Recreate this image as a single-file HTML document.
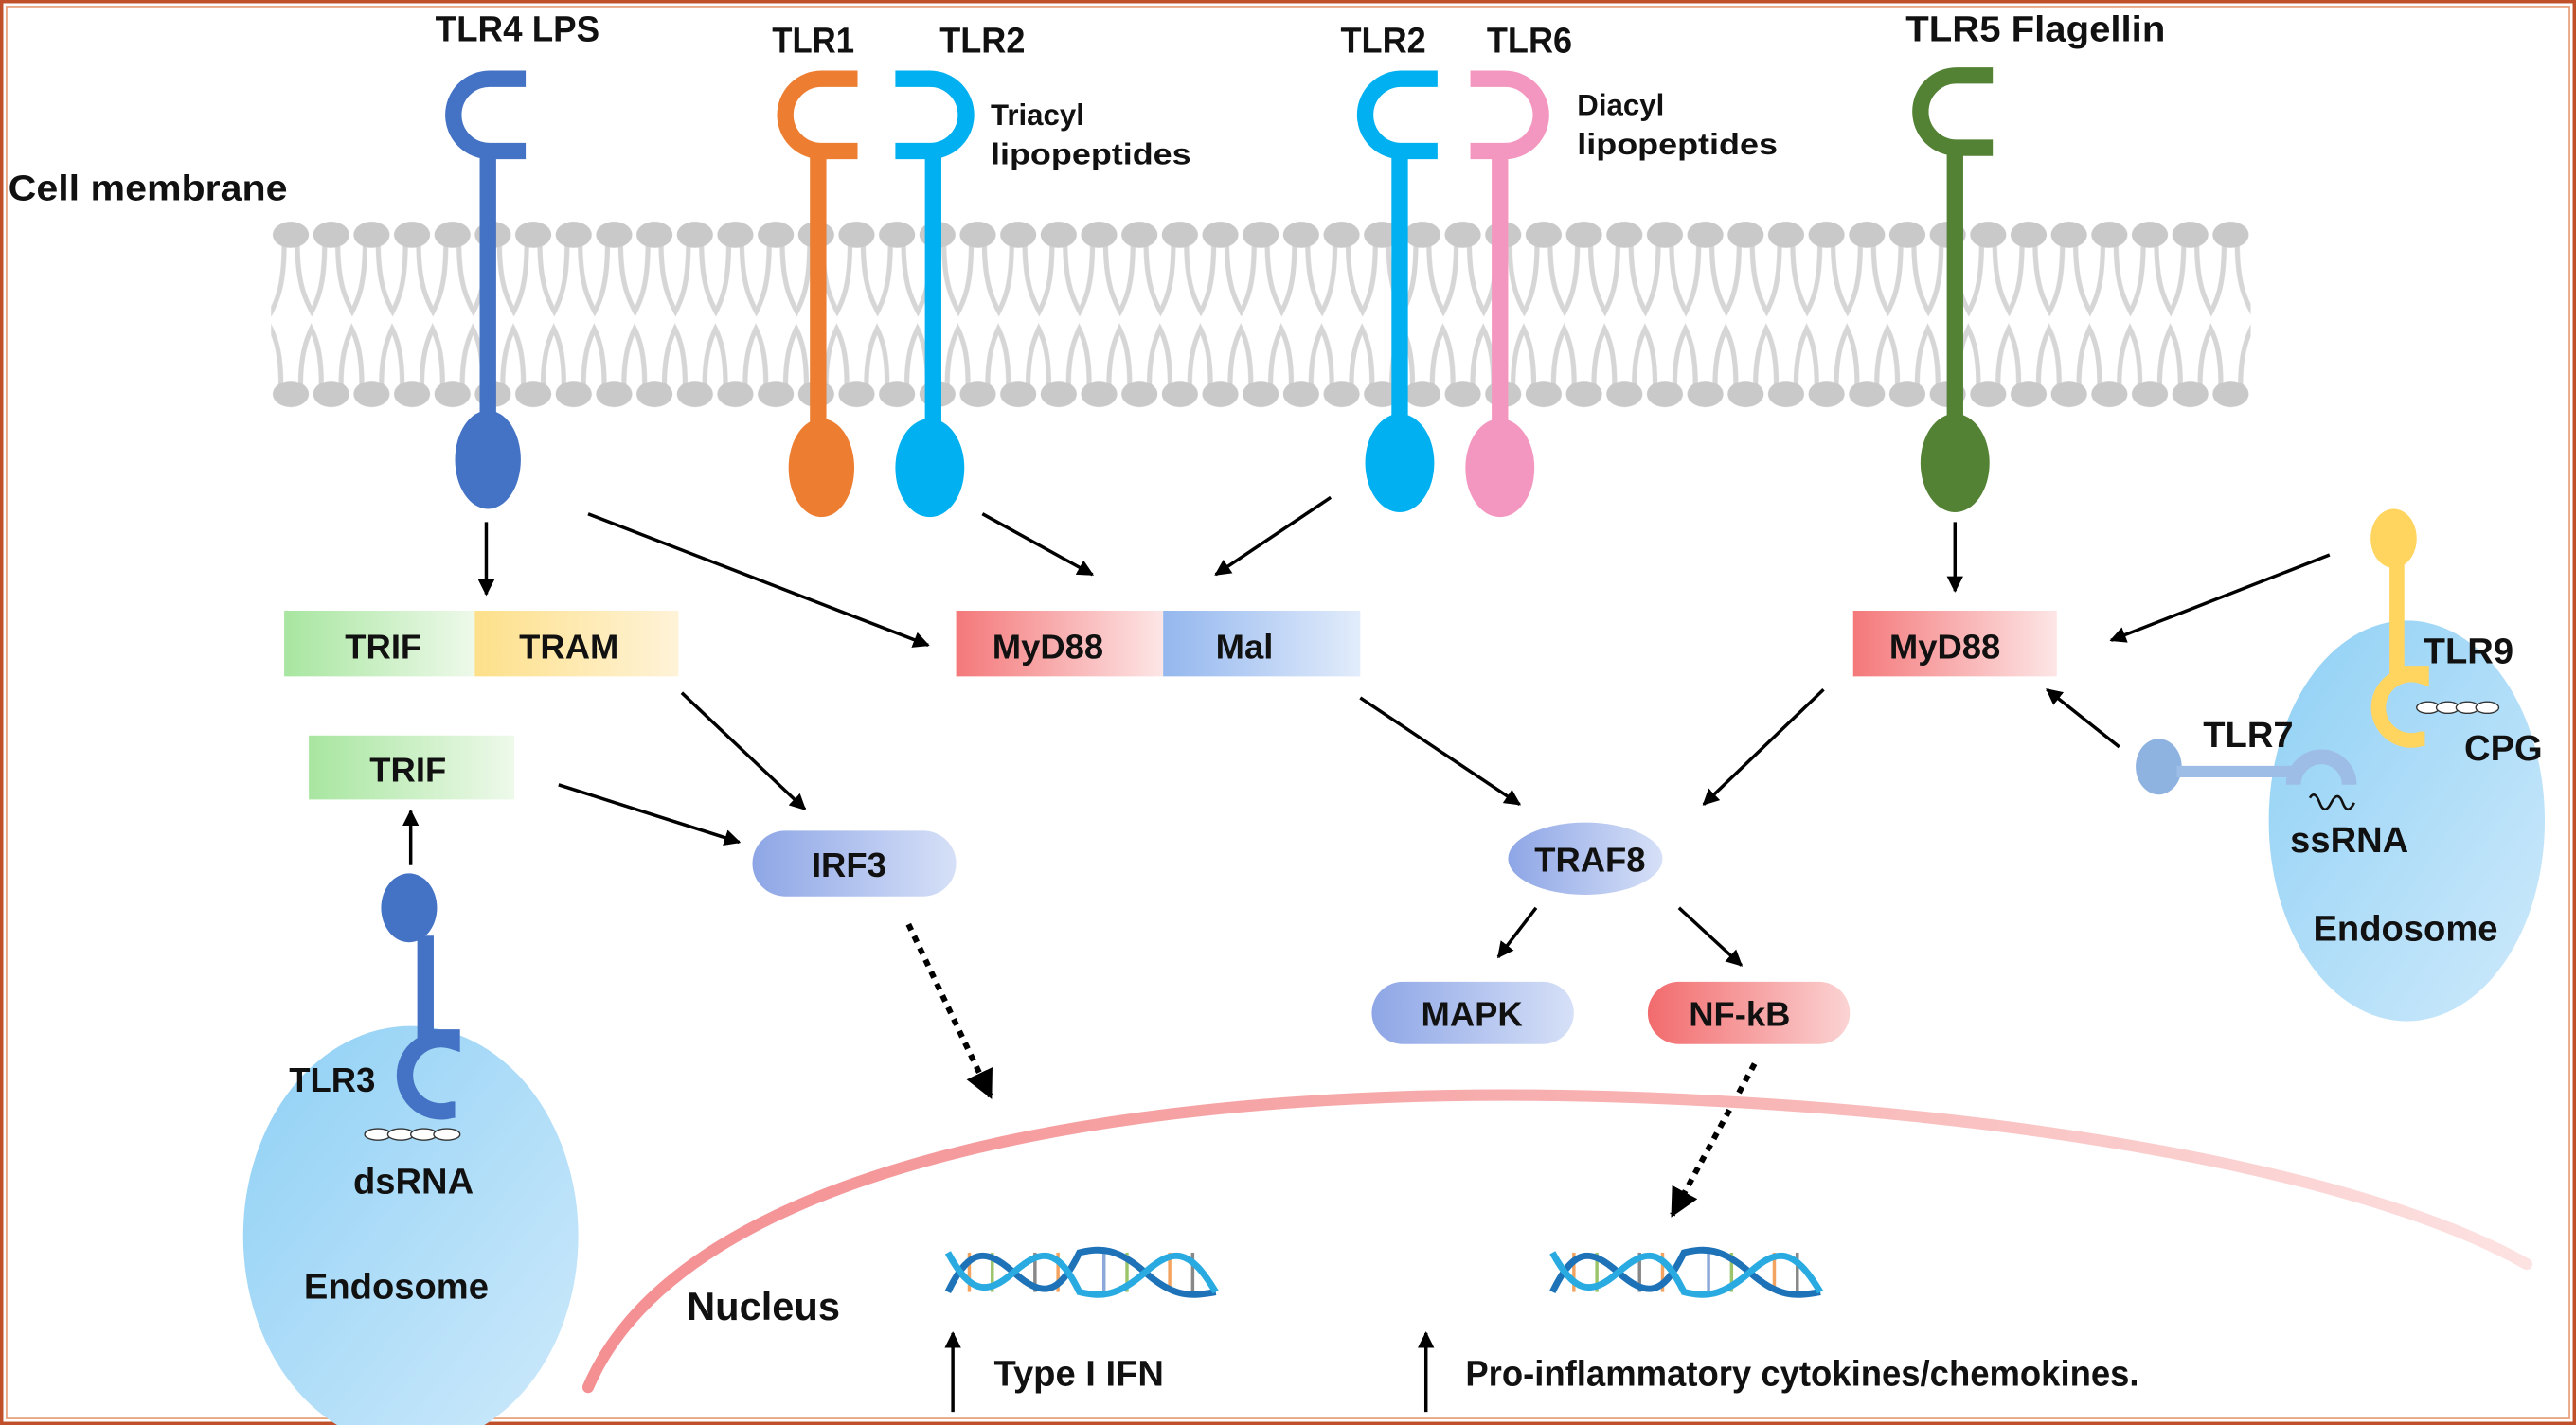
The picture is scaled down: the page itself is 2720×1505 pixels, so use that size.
<!DOCTYPE html>
<html><head><meta charset="utf-8"><style>
html,body{margin:0;padding:0;background:#fff;}
svg{display:block;}
text{font-family:"Liberation Sans",sans-serif;font-weight:bold;fill:#111;}
</style></head><body>
<svg width="2720" height="1505" viewBox="0 0 1568 868" preserveAspectRatio="none" xmlns="http://www.w3.org/2000/svg">
<defs>
<pattern id="lip" x="165" y="128" width="24.6" height="125" patternUnits="userSpaceOnUse">
 <g fill="none" stroke="#d6d6d6" stroke-width="3">
  <path d="M8 20 C8 45 4 55 -1 64"/><path d="M16 20 C16 45 21 55 26 64"/>
  <path d="M6 106 C6 85 2 75 -3 67"/><path d="M18 106 C18 85 23 75 27 67"/>
 </g>
 <ellipse cx="12" cy="15" rx="11" ry="8" fill="#c9c9c9"/>
 <ellipse cx="12" cy="112" rx="11" ry="8" fill="#c9c9c9"/>
</pattern>
<linearGradient id="gGreen" x1="0" x2="1"><stop offset="0" stop-color="#a8e6a0"/><stop offset="1" stop-color="#eef9ea"/></linearGradient>
<linearGradient id="gYel" x1="0" x2="1"><stop offset="0" stop-color="#fde08a"/><stop offset="1" stop-color="#fff3d8"/></linearGradient>
<linearGradient id="gRed" x1="0" x2="1"><stop offset="0" stop-color="#f4787a"/><stop offset="1" stop-color="#fde6e6"/></linearGradient>
<linearGradient id="gBlue" x1="0" x2="1"><stop offset="0" stop-color="#94b7ee"/><stop offset="1" stop-color="#e2ecfb"/></linearGradient>
<linearGradient id="gPur" x1="0" x2="1"><stop offset="0" stop-color="#8ea6e6"/><stop offset="1" stop-color="#d6e0f7"/></linearGradient>
<linearGradient id="gPill" x1="0" x2="1"><stop offset="0" stop-color="#f26b6d"/><stop offset="1" stop-color="#fbd3d3"/></linearGradient>
<linearGradient id="gEndo" x1="0" y1="0" x2="1" y2="1"><stop offset="0" stop-color="#8fd0f5"/><stop offset="1" stop-color="#cfeafb"/></linearGradient>
<linearGradient id="gNuc" x1="0" x2="1"><stop offset="0" stop-color="#f48f92"/><stop offset="0.6" stop-color="#f8b5b5"/><stop offset="1" stop-color="#fde2e2"/></linearGradient>
<marker id="ah" viewBox="0 0 10 10" refX="9" refY="5" markerWidth="5" markerHeight="5" orient="auto"><path d="M0 0 L10 5 L0 10 z" fill="#000"/></marker>
</defs>
<rect x="1" y="1" width="1566" height="866" fill="#fff" stroke="#c0502a" stroke-width="2"/>
<rect x="4" y="4" width="1560" height="860" fill="none" stroke="#e8a07a" stroke-width="1"/>

<rect x="165" y="128" width="1205" height="125" fill="url(#lip)"/>
<text x="5" y="122" font-size="22" textLength="170" lengthAdjust="spacingAndGlyphs">Cell membrane</text>

<g fill="none" stroke-width="10">
 <path d="M320 48 L298 48 A22 22 0 1 0 298 92 L320 92 M297 92 L297 270" stroke="#4472c4"/>
 <path d="M522 48 L500 48 A22 22 0 1 0 500 92 L522 92 M498 92 L498 270" stroke="#ed7d31"/>
 <path d="M545 48 L566 48 A22 22 0 1 1 566 92 L545 92 M568 92 L568 270" stroke="#00b0f0"/>
 <path d="M875 48 L853 48 A22 22 0 1 0 853 92 L875 92 M852 92 L852 270" stroke="#00b0f0"/>
 <path d="M895 48 L916 48 A22 22 0 1 1 916 92 L895 92 M913 92 L913 270" stroke="#f497c0"/>
 <path d="M1213 46 L1191 46 A22 22 0 1 0 1191 90 L1213 90 M1190 90 L1190 270" stroke="#548235"/>
</g>
<ellipse cx="297" cy="280" rx="20" ry="30" fill="#4472c4"/>
<ellipse cx="500" cy="285" rx="20" ry="30" fill="#ed7d31"/>
<ellipse cx="566" cy="285" rx="21" ry="30" fill="#00b0f0"/>
<ellipse cx="852" cy="282" rx="21" ry="30" fill="#00b0f0"/>
<ellipse cx="913" cy="285" rx="21" ry="30" fill="#f497c0"/>
<ellipse cx="1190" cy="282" rx="21" ry="30" fill="#548235"/>

<text x="265" y="25" font-size="22" textLength="100" lengthAdjust="spacingAndGlyphs">TLR4  LPS</text>
<text x="470" y="32" font-size="22" textLength="50" lengthAdjust="spacingAndGlyphs">TLR1</text>
<text x="572" y="32" font-size="22" textLength="52" lengthAdjust="spacingAndGlyphs">TLR2</text>
<text x="816" y="32" font-size="22" textLength="52" lengthAdjust="spacingAndGlyphs">TLR2</text>
<text x="905" y="32" font-size="22" textLength="52" lengthAdjust="spacingAndGlyphs">TLR6</text>
<text x="603" y="76" font-size="18">Triacyl</text>
<text x="603" y="100" font-size="18" textLength="122" lengthAdjust="spacingAndGlyphs">lipopeptides</text>
<text x="960" y="70" font-size="18">Diacyl</text>
<text x="960" y="94" font-size="18" textLength="122" lengthAdjust="spacingAndGlyphs">lipopeptides</text>
<text x="1160" y="25" font-size="22" textLength="158" lengthAdjust="spacingAndGlyphs">TLR5  Flagellin</text>

<rect x="173" y="372" width="116" height="40" fill="url(#gGreen)"/>
<rect x="289" y="372" width="124" height="40" fill="url(#gYel)"/>
<rect x="582" y="372" width="126" height="40" fill="url(#gRed)"/>
<rect x="708" y="372" width="120" height="40" fill="url(#gBlue)"/>
<rect x="1128" y="372" width="124" height="40" fill="url(#gRed)"/>
<rect x="188" y="448" width="125" height="39" fill="url(#gGreen)"/>
<text x="210" y="401" font-size="21">TRIF</text>
<text x="316" y="401" font-size="21">TRAM</text>
<text x="604" y="401" font-size="21">MyD88</text>
<text x="740" y="401" font-size="21">Mal</text>
<text x="1150" y="401" font-size="21">MyD88</text>
<text x="225" y="476" font-size="21">TRIF</text>

<rect x="458" y="506" width="124" height="40" rx="20" fill="url(#gPur)"/>
<text x="494" y="534" font-size="21">IRF3</text>
<ellipse cx="965" cy="523" rx="47" ry="22" fill="url(#gPur)"/>
<text x="934" y="531" font-size="21">TRAF8</text>
<rect x="835" y="598" width="123" height="38" rx="19" fill="url(#gPur)"/>
<text x="865" y="625" font-size="21">MAPK</text>
<rect x="1003" y="598" width="123" height="38" rx="19" fill="url(#gPill)"/>
<text x="1028" y="625" font-size="21">NF-kB</text>

<g stroke="#000" stroke-width="2" marker-end="url(#ah)">
 <line x1="296" y1="318" x2="296" y2="362"/>
 <line x1="358" y1="313" x2="565" y2="393"/>
 <line x1="598" y1="313" x2="665" y2="350"/>
 <line x1="810" y1="303" x2="740" y2="350"/>
 <line x1="1190" y1="318" x2="1190" y2="360"/>
 <line x1="1418" y1="338" x2="1285" y2="390"/>
 <line x1="1290" y1="455" x2="1246" y2="420"/>
 <line x1="415" y1="422" x2="490" y2="493"/>
 <line x1="340" y1="478" x2="450" y2="513"/>
 <line x1="828" y1="425" x2="925" y2="490"/>
 <line x1="1110" y1="420" x2="1037" y2="490"/>
 <line x1="935" y1="553" x2="912" y2="583"/>
 <line x1="1022" y1="553" x2="1060" y2="588"/>
 <line x1="250" y1="527" x2="250" y2="494"/>
 <line x1="580" y1="860" x2="580" y2="812"/>
 <line x1="868" y1="860" x2="868" y2="812"/>
</g>
<g stroke="#000" stroke-width="3.5" stroke-dasharray="4 4" marker-end="url(#ah)">
 <line x1="553" y1="563" x2="603" y2="668"/>
 <line x1="1068" y1="648" x2="1018" y2="740"/>
</g>

<ellipse cx="250" cy="753" rx="102" ry="128" fill="url(#gEndo)"/>
<ellipse cx="249" cy="553" rx="17" ry="21" fill="#4472c4"/>
<path d="M259 570 L259 634 M259 632 L275 632 L275 634 A22 22 0 1 0 275 676 L277 676" fill="none" stroke="#4472c4" stroke-width="10"/>
<g fill="#fff" stroke="#333" stroke-width="0.8">
 <ellipse cx="230" cy="691" rx="8" ry="3.5"/><ellipse cx="244" cy="691" rx="8" ry="3.5"/><ellipse cx="258" cy="691" rx="8" ry="3.5"/><ellipse cx="272" cy="691" rx="8" ry="3.5"/>
</g>
<text x="176" y="665" font-size="21">TLR3</text>
<text x="215" y="727" font-size="22">dsRNA</text>
<text x="185" y="791" font-size="22">Endosome</text>

<ellipse cx="1465" cy="500" rx="84" ry="122" fill="url(#gEndo)"/>
<ellipse cx="1457" cy="328" rx="14" ry="18" fill="#ffd45f"/>
<path d="M1459 340 L1459 412 M1459 410 L1474 410 L1474 412 A20 20 0 1 0 1474 450 L1476 450" fill="none" stroke="#ffd45f" stroke-width="9"/>
<g fill="#fff" stroke="#333" stroke-width="0.8">
 <ellipse cx="1478" cy="431" rx="7" ry="3.5"/><ellipse cx="1490" cy="431" rx="7" ry="3.5"/><ellipse cx="1502" cy="431" rx="7" ry="3.5"/><ellipse cx="1514" cy="431" rx="7" ry="3.5"/>
</g>
<ellipse cx="1314" cy="467" rx="14" ry="17" fill="#8fb3e0"/>
<path d="M1325 470 L1400 470" stroke="#9dbde6" stroke-width="7"/>
<path d="M1396 478 A17 17 0 0 1 1430 478" fill="none" stroke="#9dbde6" stroke-width="9"/>
<path d="M1406 486 q3 -5 6 3 t7 0 t7 0 t7 0" fill="none" stroke="#111" stroke-width="1.5"/>
<text x="1475" y="404" font-size="22">TLR9</text>
<text x="1341" y="455" font-size="22">TLR7</text>
<text x="1500" y="463" font-size="22">CPG</text>
<text x="1394" y="519" font-size="22">ssRNA</text>
<text x="1408" y="573" font-size="22">Endosome</text>

<path d="M358 845 C420 700 720 660 980 668 C1250 676 1450 720 1538 770" fill="none" stroke="url(#gNuc)" stroke-width="7" stroke-linecap="round"/>
<text x="418" y="804" font-size="24">Nucleus</text>

<g id="dna" fill="none" stroke-width="4">
 <g stroke-width="2">
  <line x1="590" y1="763" x2="590" y2="787" stroke="#f4a460"/><line x1="604" y1="763" x2="604" y2="787" stroke="#9bc46b"/>
  <line x1="630" y1="763" x2="630" y2="787" stroke="#888"/><line x1="644" y1="763" x2="644" y2="787" stroke="#f4a460"/>
  <line x1="672" y1="763" x2="672" y2="787" stroke="#8aa8d8"/><line x1="686" y1="763" x2="686" y2="787" stroke="#9bc46b"/>
  <line x1="712" y1="763" x2="712" y2="787" stroke="#f4a460"/><line x1="726" y1="763" x2="726" y2="787" stroke="#888"/>
 </g>
 <path d="M577 787 C590 760 600 760 617 775 C634 790 644 790 657 763 C670 760 680 760 697 775 C714 790 724 790 740 787" stroke="#1e73b8"/>
 <path d="M577 763 C590 787 600 790 617 775 C634 760 644 760 657 787 C670 790 680 790 697 775 C714 760 724 760 740 787" stroke="#29abe2"/>
</g>
<use href="#dna" x="368" y="0"/>

<text x="605" y="844" font-size="22">Type I IFN</text>
<text x="892" y="844" font-size="22" textLength="410" lengthAdjust="spacingAndGlyphs">Pro-inflammatory cytokines/chemokines.</text>
</svg>
</body></html>
